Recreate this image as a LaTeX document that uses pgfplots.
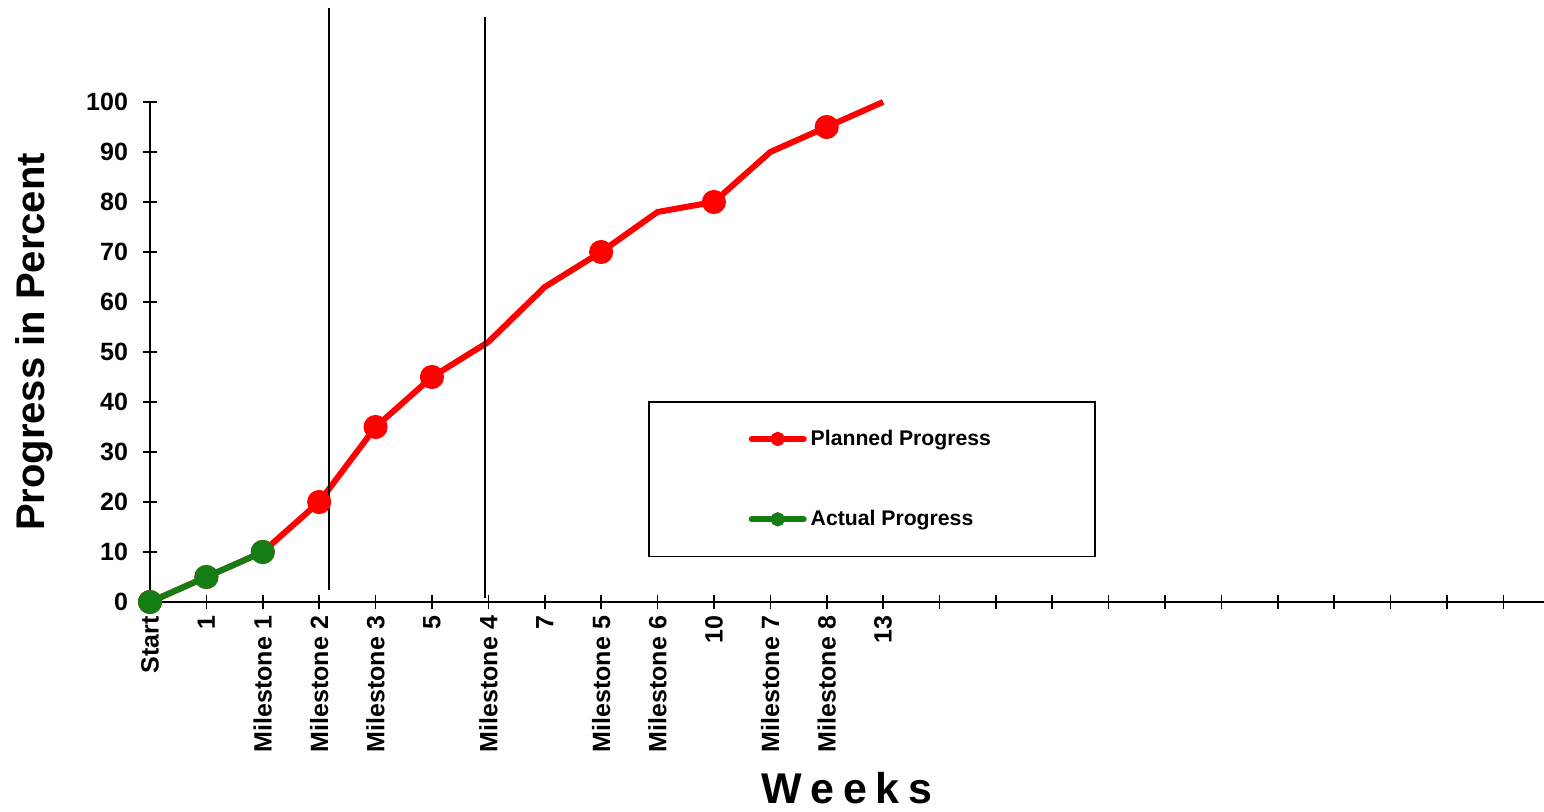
\documentclass[border=0pt]{standalone}
\usepackage{pgfplots}
\pgfplotsset{compat=1.18}
\usepackage{fontspec}
\setmainfont{Liberation Sans}
\definecolor{actgreen}{RGB}{20,125,20}
\definecolor{planred}{RGB}{255,0,0}

\begin{document}
\begin{tikzpicture}
  \begin{axis}[
      scale only axis,
      width=697pt, height=250pt,
      xmin=0, xmax=24.72, ymin=0, ymax=100,
      clip=false,
      axis x line=bottom, axis y line=left,
      axis line style={-, line width=1pt},
      xtick={0,...,24},
      xticklabels={Start,1,Milestone 1,Milestone 2,Milestone 3,5,Milestone 4,7,Milestone 5,Milestone 6,10,Milestone 7,Milestone 8,13,{},{},{},{},{},{},{},{},{},{},{}},
      ytick={0,10,...,100},
      tick align=center,
      major tick length=7pt,
      tick style={black, line width=0.8pt},
      /pgf/number format/assume math mode=true,
      every tick label/.append style={font=\bfseries\fontsize{12.5}{14}\selectfont},
      xticklabel style={rotate=90, anchor=east},
      yticklabel style={anchor=east, xshift=-4pt},
      xlabel={W\hspace{0.2em}e\hspace{0.2em}e\hspace{0.2em}k\hspace{0.2em}s},
      xlabel style={at={(axis description cs:0.5,0)}, anchor=center, yshift=-93pt,
        font=\bfseries\fontsize{21.5}{24}\selectfont},
      ylabel={Progress in Percent},
      ylabel style={at={(axis description cs:-0.0832,0.52)}, anchor=center,
        font=\bfseries\fontsize{20}{23}\selectfont},
      legend style={at={(axis cs:8.83,40.2)}, anchor=north west, draw=black, line width=0.8pt,
        inner xsep=50pt, inner ysep=12pt, row sep=27pt,
        font=\bfseries\fontsize{10.6}{12}\selectfont, cells={anchor=west}},
      legend image code/.code={
        \draw[#1, line width=3pt, line cap=round] (0pt,0pt) -- (26pt,0pt);
        \fill[#1] (13pt,0pt) circle (2pt);
      },
    ]
    \addplot[planred, line width=3pt, mark=*, mark size=4.5pt,
      mark indices={1,2,3,4,5,6,9,11,13}, mark options={solid, fill=planred, draw=planred}]
    coordinates {(0,0) (1,5) (2,10) (3,20) (4,35) (5,45) (6,52) (7,63) (8,70) (9,78) (10,80) (11,90) (12,95) (13,100)};
    \addlegendentry{Planned Progress}
    \addplot[actgreen, line width=3pt, mark=*, mark size=4.5pt,
      mark options={solid, fill=actgreen, draw=actgreen}]
    coordinates {(0,0) (1,5) (2,10)};
    \addlegendentry{Actual Progress}
    \addplot[black, line width=1pt, forget plot] coordinates {(3.17,2.4) (3.17,118.8)};
    \addplot[black, line width=1pt, forget plot] coordinates {(5.94,0.8) (5.94,117)};
    \coordinate (BL) at (rel axis cs:0,0);
  \end{axis}
  \pgfresetboundingbox
  \path[use as bounding box] (BL) ++(-75pt,-105pt) rectangle ++(772pt,406pt);
\end{tikzpicture}
\end{document}
